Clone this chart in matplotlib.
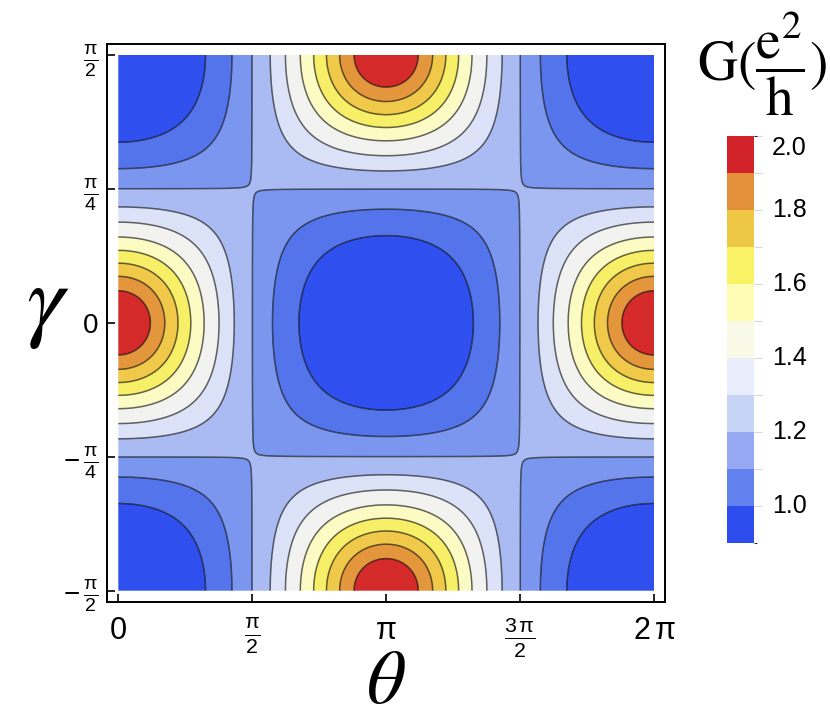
import numpy as np
import matplotlib
matplotlib.use("Agg")
import matplotlib.pyplot as plt
from matplotlib.colors import ListedColormap, BoundaryNorm
from matplotlib.cm import ScalarMappable
from matplotlib.transforms import blended_transform_factory

# ---------------- data ----------------
# conductance levels (contour lines) and the value of u = cos(theta)*cos(2*gamma)
G_LEVELS = [1.0, 1.1, 1.2, 1.3, 1.4, 1.5, 1.6, 1.7, 1.8, 1.9]
U_AT_LEVEL = [-0.52, -0.235, -0.002, 0.21, 0.38, 0.535, 0.66, 0.765, 0.855, 0.93]
G_MIN = 0.90   # value at u = -1
G_MAX = 2.00   # value at u = +1

# band colours as drawn inside the plot (low -> high)
PLOT_COLORS = ["#2F4FEE", "#5474EC", "#7B96EE", "#A9BBF2", "#DCE3F8",
               "#F2F3F0", "#FDFBC4", "#F8EF68", "#F0C94A", "#E3963C", "#D42A2A"]
# band colours as drawn in the legend bar (low -> high)
BAR_COLORS = ["#2E4DEE", "#6182EE", "#97A8F2", "#C7D4F6", "#E8EEFB",
              "#F9F9E8", "#FEFDB5", "#F9F264", "#EEC744", "#E2903A", "#D2232B"]

X_TICKS = [0, np.pi / 2, np.pi, 3 * np.pi / 2, 2 * np.pi]
X_TICK_LABELS = [r"$0$", r"$\frac{\mathrm{\pi}}{2}$", r"$\mathrm{\pi}$",
                 r"$\frac{3\,\mathrm{\pi}}{2}$", r"$2\,\mathrm{\pi}$"]
Y_TICKS = [-np.pi / 2, -np.pi / 4, 0, np.pi / 4, np.pi / 2]
Y_TICK_LABELS = [r"$-\,\frac{\mathrm{\pi}}{2}$", r"$-\,\frac{\mathrm{\pi}}{4}$", r"$0$",
                 r"$\frac{\mathrm{\pi}}{4}$", r"$\frac{\mathrm{\pi}}{2}$"]
CB_LABEL_TICKS = [1.0, 1.2, 1.4, 1.6, 1.8, 2.0]

# ---------------- styling ----------------
plt.rcParams["mathtext.fontset"] = "custom"
plt.rcParams["mathtext.rm"] = "Liberation Sans"
plt.rcParams["mathtext.it"] = "Liberation Sans:italic"
plt.rcParams["mathtext.bf"] = "Liberation Sans:bold"
plt.rcParams["font.family"] = ["Liberation Sans", "DejaVu Sans"]

W, H = 830, 720
fig = plt.figure(figsize=(W / 100, H / 100), dpi=100)

ax = fig.add_axes([106.7 / W, 1 - 601.7 / H, (665.3 - 106.7) / W, (601.7 - 44) / H])

theta = np.linspace(0, 2 * np.pi, 700)
gamma = np.linspace(-np.pi / 2, np.pi / 2, 700)
TH, GA = np.meshgrid(theta, gamma)
u = np.cos(TH) * np.cos(2 * GA)
G = np.interp(u, [-1.0] + U_AT_LEVEL + [1.0], [G_MIN] + G_LEVELS + [G_MAX])

bounds = [G_MIN] + G_LEVELS + [G_MAX]
plot_cmap = ListedColormap(PLOT_COLORS)
bar_cmap = ListedColormap(BAR_COLORS)
norm = BoundaryNorm(bounds, len(PLOT_COLORS))

ax.contourf(TH, GA, G, levels=bounds, cmap=plot_cmap, norm=norm, antialiased=True)
ax.contour(TH, GA, G, levels=G_LEVELS, colors="k", alpha=0.6, linewidths=1.1)

ax.set_xlim(-0.136, 2 * np.pi + 0.1325)
ax.set_ylim(-np.pi / 2 - 0.0645, np.pi / 2 + 0.0645)
ax.set_xticks(X_TICKS)
ax.set_xticklabels(X_TICK_LABELS, fontsize=22)
ax.set_yticks(Y_TICKS)
ax.set_yticklabels(Y_TICK_LABELS, fontsize=20)
ax.tick_params(direction="in", length=6, width=1.2, top=False, right=False)
ax.tick_params(axis="x", pad=10)
ax.tick_params(axis="y", pad=6)
for s in ax.spines.values():
    s.set_linewidth(1.4)

fig.text(386 / W, 1 - 683 / H, r"$\theta$", math_fontfamily="stix", fontsize=55,
         ha="center", va="center")
fig.text(48 / W, 1 - 306 / H, r"$\gamma$", math_fontfamily="stix", fontsize=68,
         ha="center", va="center")

# ---------------- colorbar ----------------
cax = fig.add_axes([727.3 / W, 1 - 542.7 / H, 27 / W, (542.7 - 135.7) / H])
sm = ScalarMappable(norm=BoundaryNorm(bounds, len(BAR_COLORS)), cmap=bar_cmap)
cb = fig.colorbar(sm, cax=cax)
cb.outline.set_visible(False)
cb.set_ticks(G_LEVELS + [1.9999])
cb.set_ticklabels([""] * (len(G_LEVELS) + 1))
cax.tick_params(length=6, width=0.8, color="#d8d8d8", pad=0)
tr = blended_transform_factory(cax.transAxes, cax.transData)
for t in CB_LABEL_TICKS:
    va = "top" if t == G_MAX else "center"
    yy = 1.998 if t == G_MAX else t
    cax.text((771.7 - 727.3) / 27, yy, f"{t:.1f}", transform=tr, fontsize=18,
             ha="left", va=va)

fig.text(762 / W, 1 - 64 / H, r"$\mathrm{G}(\dfrac{\mathrm{e}^2}{\mathrm{h}})$",
         math_fontfamily="stix", fontsize=40, ha="center", va="center")

fig.savefig("out.png", dpi=100)
